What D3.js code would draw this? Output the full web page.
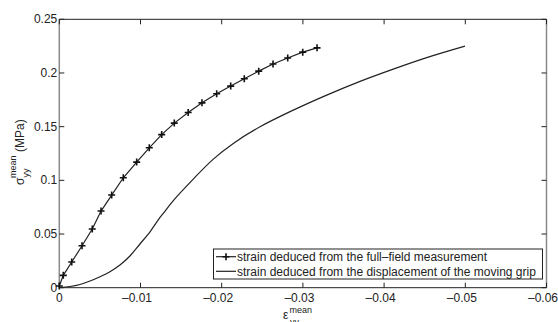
<!DOCTYPE html>
<html>
<head>
<meta charset="utf-8">
<script src="https://cdn.jsdelivr.net/npm/d3@7"></script>
<style>
  body { margin: 0; background: #fff; }
  svg { display: block; font-family: "Liberation Sans", Arial, sans-serif; }
</style>
</head>
<body>
<div id="chart"></div>
<script>
// full-field measurement (with + markers)
const fieldStrain = [0, -0.00049, -0.00153, -0.0028, -0.00406, -0.00514, -0.00645, -0.00788, -0.00953, -0.01108,
  -0.01261, -0.01416, -0.01587, -0.01757, -0.01938, -0.02111, -0.02278, -0.02456, -0.02632, -0.02813, -0.02998, -0.03174];
const fieldStress = [0.0016, 0.0115, 0.0239, 0.0391, 0.0547, 0.0714, 0.0863, 0.1024, 0.117, 0.1303,
  0.1426, 0.1533, 0.1632, 0.1722, 0.1806, 0.1878, 0.1946, 0.2017, 0.2083, 0.2139, 0.2194, 0.2234];

// displacement of the moving grip
const gripStrain = [0, -0.00132, -0.00255, -0.00378, -0.00501, -0.00624, -0.00747, -0.0087, -0.00993, -0.01117,
  -0.0124, -0.0128, -0.01404, -0.0165, -0.01897, -0.02143, -0.02472, -0.02882, -0.03293, -0.03704, -0.04113, -0.04525, -0.04996];
const gripStress = [0.0002, 0.0011, 0.003, 0.0062, 0.0102, 0.0149, 0.0211, 0.0295, 0.0407, 0.0521,
  0.0655, 0.0692, 0.0812, 0.1012, 0.1198, 0.1344, 0.1499, 0.1654, 0.1794, 0.1922, 0.2036, 0.2143, 0.225];

const xTicks = [0, -0.01, -0.02, -0.03, -0.04, -0.05, -0.06];
const xTickLabels = ["0", "\u20130.01", "\u20130.02", "\u20130.03", "\u20130.04", "\u20130.05", "\u20130.06"];
const yTicks = [0, 0.05, 0.1, 0.15, 0.2, 0.25];
const yTickLabels = ["0", "0.05", "0.1", "0.15", "0.2", "0.25"];
const legendLabels = ["strain deduced from the full\u2013field measurement",
  "strain deduced from the displacement of the moving grip"];

const width = 558, height = 322;
const box = {left: 59.3, right: 546.5, top: 19.3, bottom: 287.7};

const svg = d3.select("#chart").append("svg")
  .attr("width", width)
  .attr("height", height);

const x = d3.scaleLinear().domain([0, -0.06]).range([box.left, box.right]);
const y = d3.scaleLinear().domain([0, 0.25]).range([box.bottom, box.top]);

// frame
svg.append("line").attr("x1", box.left).attr("x2", box.right).attr("y1", box.top).attr("y2", box.top)
  .attr("stroke", "#222").attr("stroke-width", 1);
svg.append("line").attr("x1", box.left).attr("x2", box.right).attr("y1", box.bottom).attr("y2", box.bottom)
  .attr("stroke", "#222").attr("stroke-width", 1);
svg.append("line").attr("x1", box.left).attr("x2", box.left).attr("y1", box.top).attr("y2", box.bottom)
  .attr("stroke", "#8a8a8a").attr("stroke-width", 1.5);
svg.append("line").attr("x1", box.right).attr("x2", box.right).attr("y1", box.top).attr("y2", box.bottom)
  .attr("stroke", "#8a8a8a").attr("stroke-width", 1.5);

const tickLen = 5;
const ticks = svg.append("g").attr("stroke", "#222").attr("stroke-width", 1);
xTicks.forEach(t => {
  ticks.append("line").attr("x1", x(t)).attr("x2", x(t)).attr("y1", box.bottom).attr("y2", box.bottom - tickLen);
  ticks.append("line").attr("x1", x(t)).attr("x2", x(t)).attr("y1", box.top).attr("y2", box.top + tickLen);
});
yTicks.forEach(t => {
  ticks.append("line").attr("x1", box.left).attr("x2", box.left + tickLen).attr("y1", y(t)).attr("y2", y(t));
  ticks.append("line").attr("x1", box.right).attr("x2", box.right - tickLen).attr("y1", y(t)).attr("y2", y(t));
});

// tick labels
svg.append("g").selectAll("text").data(xTicks).join("text")
  .attr("x", d => x(d) - (d === 0 ? 0 : 3.5))
  .attr("y", box.bottom + 14)
  .attr("text-anchor", "middle")
  .attr("font-size", 12)
  .attr("fill", "#222")
  .text((d, i) => xTickLabels[i]);

svg.append("g").selectAll("text").data(yTicks).join("text")
  .attr("x", box.left - 2)
  .attr("y", d => y(d) + 4)
  .attr("text-anchor", "end")
  .attr("font-size", 12)
  .attr("fill", "#222")
  .text((d, i) => yTickLabels[i]);

// lines
const fieldData = fieldStrain.map((s, i) => [s, fieldStress[i]]);
const gripData = gripStrain.map((s, i) => [s, gripStress[i]]);

const line = d3.line().x(d => x(d[0])).y(d => y(d[1]));
const smooth = d3.line().x(d => x(d[0])).y(d => y(d[1])).curve(d3.curveCatmullRom);

svg.append("path").datum(gripData)
  .attr("d", smooth)
  .attr("fill", "none")
  .attr("stroke", "#222")
  .attr("stroke-width", 1.2);

svg.append("path").datum(fieldData)
  .attr("d", line)
  .attr("fill", "none")
  .attr("stroke", "#222")
  .attr("stroke-width", 1.2);

const m = 3.5;
svg.append("g").selectAll("path").data(fieldData).join("path")
  .attr("d", d => `M${x(d[0]) - m},${y(d[1])}h${2 * m}M${x(d[0])},${y(d[1]) - m}v${2 * m}`)
  .attr("stroke", "#111")
  .attr("stroke-width", 1.6);

// legend
const lg = svg.append("g");
lg.append("rect")
  .attr("x", 213.5).attr("y", 249).attr("width", 329).attr("height", 30)
  .attr("fill", "#fff").attr("stroke", "#222").attr("stroke-width", 1);
legendLabels.forEach((label, i) => {
  const ly = 256.7 + i * 14.6;
  lg.append("line").attr("x1", 216).attr("x2", 236).attr("y1", ly).attr("y2", ly)
    .attr("stroke", "#222").attr("stroke-width", 1.2);
  if (i === 0) {
    lg.append("path").attr("d", `M${226 - m},${ly}h${2 * m}M226,${ly - m}v${2 * m}`)
      .attr("stroke", "#111").attr("stroke-width", 1.6);
  }
  lg.append("text").attr("x", 237).attr("y", ly + 4.3)
    .attr("font-size", 12).attr("fill", "#222").text(label);
});

// axis labels
const xl = svg.append("g").attr("fill", "#222");
xl.append("text").attr("x", 283).attr("y", 319).attr("font-size", 12).text("\u03b5");
xl.append("text").attr("x", 289.5).attr("y", 312.5).attr("font-size", 9).text("mean");
xl.append("text").attr("x", 290).attr("y", 325).attr("font-size", 9).text("yy");

const yl = svg.append("g").attr("fill", "#222")
  .attr("transform", "translate(24,185) rotate(-90)");
yl.append("text").attr("x", 0).attr("y", 0).attr("font-size", 12).text("\u03c3");
yl.append("text").attr("x", 7).attr("y", -8).attr("font-size", 9).text("mean");
yl.append("text").attr("x", 7.5).attr("y", 5).attr("font-size", 9).text("yy");
yl.append("text").attr("x", 33).attr("y", 0).attr("font-size", 12).text("(MPa)");
</script>
</body>
</html>
